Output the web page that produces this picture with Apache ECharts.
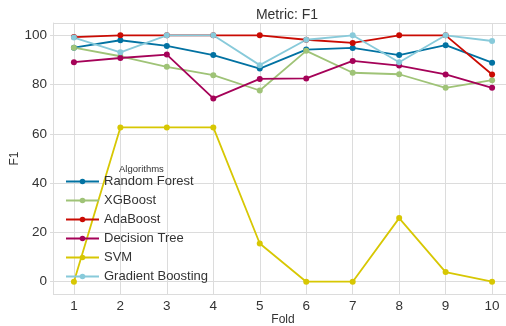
<!DOCTYPE html>
<html>
<head>
<meta charset="utf-8">
<script src="https://cdn.jsdelivr.net/npm/echarts@6/dist/echarts.min.js"></script>
<style>
  html, body { margin: 0; padding: 0; background: #fff; }
  #chart { width: 506px; height: 326px; }
</style>
</head>
<body>
<div id="chart"></div>
<script>
// F1 per fold
let folds = [1, 2, 3, 4, 5, 6, 7, 8, 9, 10];
let randomForest = [95.0, 98.0, 95.7, 92.0, 86.5, 94.2, 94.9, 92.0, 96.0, 88.9];
let xgBoost = [95.0, 91.5, 87.2, 83.8, 77.6, 93.7, 84.8, 84.2, 78.7, 81.8];
let adaBoost = [99.3, 100, 100, 100, 100, 98.2, 96.9, 100, 100, 84.1];
let decisionTree = [89.1, 90.8, 92.2, 74.4, 82.3, 82.5, 89.6, 87.7, 84.1, 78.7];
let svm = [0, 62.6, 62.6, 62.6, 15.5, 0, 0, 25.8, 3.9, 0];
let gradientBoosting = [99.1, 93.1, 100, 100, 87.9, 98.2, 100, 89.1, 100, 97.7];

let names = ['Random Forest', 'XGBoost', 'AdaBoost', 'Decision Tree', 'SVM', 'Gradient Boosting'];
let values = [randomForest, xgBoost, adaBoost, decisionTree, svm, gradientBoosting];
let colors = ['#0272a2', '#9fc377', '#ca0b03', '#a50258', '#d7c703', '#88cada'];

let font = 'Liberation Sans, Arial, sans-serif';
let gridColor = '#dcdcdc';

let dom = document.getElementById('chart');
let chart = echarts.init(dom, null, { renderer: 'canvas' });

let series = names.map(function (n, i) {
    return {
        name: n,
        type: 'line',
        data: folds.map(function (f, j) { return [f, values[i][j]]; }),
        symbol: 'circle',
        symbolSize: 6,
        showSymbol: true,
        lineStyle: { width: 1.8 },
        itemStyle: { color: colors[i] },
        emphasis: { disabled: true }
    };
});

let option = {
    animation: false,
    color: colors,
    title: [
        {
            text: 'Metric: F1',
            left: 282,
            top: 3,
            textAlign: 'center',
            textStyle: { fontFamily: font, fontSize: 14, fontWeight: 'normal', color: '#333' }
        },
        {
            text: 'Algorithms',
            left: 114,
            top: 159,
            textStyle: { fontFamily: font, fontSize: 9.5, fontWeight: 'normal', color: '#333' }
        }
    ],
    legend: {
        data: names,
        orient: 'vertical',
        left: 60,
        top: 170,
        itemWidth: 33,
        itemHeight: 7,
        itemGap: 6,
        textStyle: { fontFamily: font, fontSize: 13, color: '#333' }
    },
    grid: {
        left: 53,
        right: -7,
        top: 23,
        bottom: 32,
        outerBoundsMode: 'none',
        containLabel: false
    },
    xAxis: {
        type: 'value',
        min: 0.55,
        max: 10.45,
        splitNumber: 10,
        name: 'Fold',
        nameLocation: 'middle',
        nameGap: 20,
        nameMoveOverlap: false,
        nameTextStyle: { fontFamily: font, fontSize: 12, color: '#333' },
        axisLine: { show: true, lineStyle: { color: gridColor } },
        axisTick: { show: true, length: 3, lineStyle: { color: gridColor } },
        axisLabel: {
            showMinLabel: false,
            showMaxLabel: false,
            margin: 5,
            fontFamily: font,
            fontSize: 13.5,
            color: '#333'
        },
        splitLine: { show: true, lineStyle: { color: gridColor } }
    },
    yAxis: {
        type: 'value',
        min: -5,
        max: 105,
        splitNumber: 5,
        name: 'F1',
        nameLocation: 'middle',
        nameGap: 32,
        nameMoveOverlap: false,
        nameTextStyle: { fontFamily: font, fontSize: 12, color: '#333' },
        axisLine: { show: true, lineStyle: { color: gridColor } },
        axisTick: { show: true, length: 3, lineStyle: { color: gridColor } },
        axisLabel: {
            showMinLabel: false,
            showMaxLabel: false,
            margin: 6,
            fontFamily: font,
            fontSize: 13.5,
            color: '#333'
        },
        splitLine: { show: true, lineStyle: { color: gridColor } }
    },
    series: series
};

chart.setOption(option);
</script>
</body>
</html>
